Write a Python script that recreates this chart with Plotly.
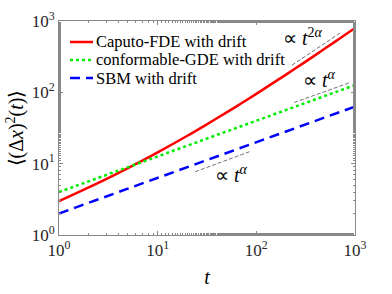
import plotly.graph_objects as go

# Data
t_caputo = [1, 2, 3, 5, 7, 10, 20, 30, 50, 70, 100, 200, 300, 500, 700, 1000]
msd_caputo = [2.98, 4.65, 6.09, 8.68, 11.06, 14.4, 24.6, 34.2, 52.3, 69.8, 95.3, 177.3, 257, 414, 569, 798]
t_conf = [1, 1000]
msd_conf = [4.0, 126.5]
t_sbm = [1, 1000]
msd_sbm = [2.0, 63.2]

guide1_t = [230, 730]
guide1_v = [240, 700]
guide2_t = [242, 888]
guide2_v = [72, 137]
guide3_t = [24, 85]
guide3_v = [7.7, 14.7]

series_names = ["Caputo-FDE with drift", "conformable-GDE with drift", "SBM with drift"]
tick_vals = [1, 10, 100, 1000]
tick_text = ["10<sup>0</sup>", "10<sup>1</sup>", "10<sup>2</sup>", "10<sup>3</sup>"]

FONT = "Liberation Serif, Times New Roman, serif"
W, H = 392, 294
ML, MR, MT, MB = 59, 37, 21, 59
PW, PH = W - ML - MR, H - MT - MB

styles = [dict(color="#ff0000", width=2.5),
          dict(color="#00ee00", width=2.5, dash="dot"),
          dict(color="#0000ff", width=2.5, dash="10px,6px")]

fig = go.Figure()
fig.add_trace(go.Scatter(x=t_caputo, y=msd_caputo, mode="lines", name=series_names[0],
                         line=dict(shape="spline", **styles[0])))
fig.add_trace(go.Scatter(x=t_conf, y=msd_conf, mode="lines", name=series_names[1], line=styles[1]))
fig.add_trace(go.Scatter(x=t_sbm, y=msd_sbm, mode="lines", name=series_names[2], line=styles[2]))
for gt, gv in [(guide1_t, guide1_v), (guide2_t, guide2_v), (guide3_t, guide3_v)]:
    fig.add_trace(go.Scatter(x=gt, y=gv, mode="lines", showlegend=False,
                             line=dict(color="#333333", width=0.7, dash="4px,2px")))

# manual legend (MATLAB-like compact legend)
def px2paper_x(px):
    return (px - ML) / PW

def px2paper_y(py):
    return 1 - (py - MT) / PH

for i, (name, st) in enumerate(zip(series_names, styles)):
    ry = 42 + 18 * i
    fig.add_shape(type="line", xref="paper", yref="paper",
                  x0=px2paper_x(70), x1=px2paper_x(93), y0=px2paper_y(ry), y1=px2paper_y(ry),
                  line=st)
    fig.add_annotation(xref="paper", yref="paper", x=px2paper_x(94), y=px2paper_y(ry),
                       xanchor="left", yanchor="middle", text=name, showarrow=False,
                       font=dict(family=FONT, size=16.5, color="black"))

ann_font = dict(family=FONT, size=20, color="black")
fig.add_annotation(x=2.47, y=2.78, xref="x", yref="y", text="∝ <i>t</i><sup>2<i>α</i></sup>",
                   showarrow=False, font=ann_font)
fig.add_annotation(x=2.64, y=2.19, xref="x", yref="y", text="∝ <i>t</i><sup><i>α</i></sup>",
                   showarrow=False, font=ann_font)
fig.add_annotation(x=1.75, y=0.85, xref="x", yref="y", text="∝ <i>t</i><sup><i>α</i></sup>",
                   showarrow=False, font=ann_font)

axis_common = dict(type="log", showgrid=False, zeroline=False, showline=True, mirror="ticks",
                   linecolor="#888888", linewidth=1, ticks="inside", ticklen=4, tickcolor="#888888",
                   tickvals=tick_vals, ticktext=tick_text, automargin=False,
                   minor=dict(ticks="inside", ticklen=2, tickcolor="#888888", showgrid=False),
                   tickfont=dict(family=FONT, size=17, color="#262626"))

fig.update_layout(
    width=W, height=H,
    margin=dict(l=ML, r=MR, t=MT, b=MB),
    paper_bgcolor="white", plot_bgcolor="white",
    font=dict(family=FONT, color="black"),
    xaxis=dict(range=[0, 3], title=dict(text="<i>t</i>", font=dict(family=FONT, size=20), standoff=10), **axis_common),
    yaxis=dict(range=[0, 3], title=dict(text="⟨(Δ<i>x</i>)<sup>2</sup>(<i>t</i>)⟩", font=dict(family=FONT, size=20), standoff=2), **axis_common),
    showlegend=False,
)

fig.write_html("out.html", config={"displayModeBar": False},
               post_script="document.body.style.margin='0';")
